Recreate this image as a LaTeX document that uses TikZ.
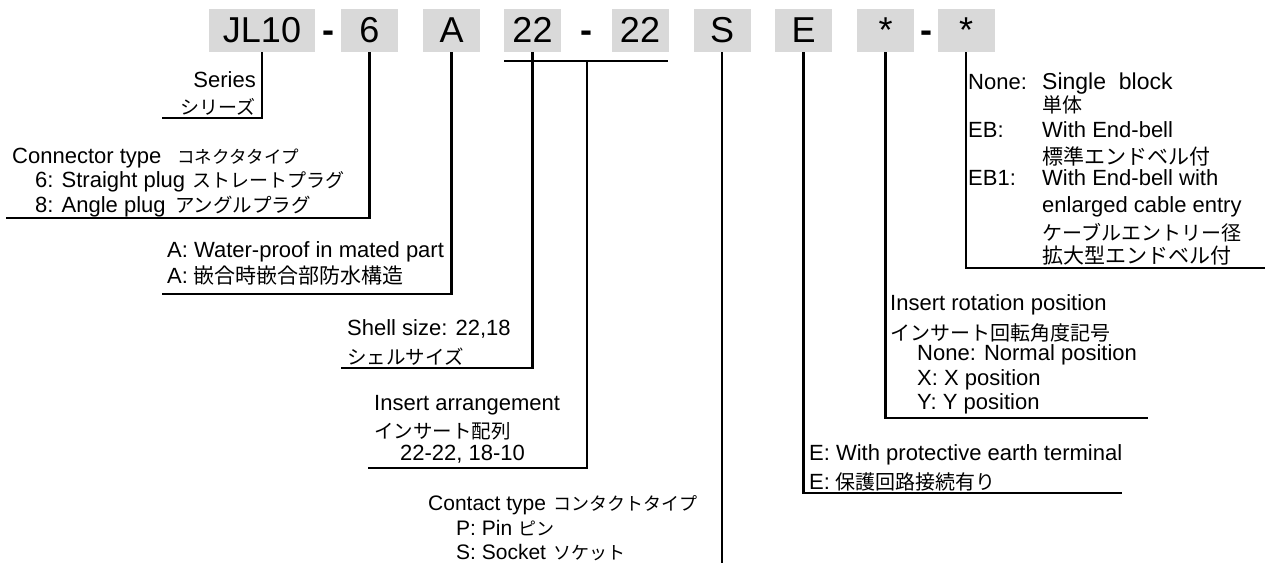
\documentclass[tikz,border=0pt]{standalone}
\usepackage{fontspec}
\setmainfont{Liberation Sans}
\newfontfamily\jp{Noto Sans CJK JP}
\definecolor{boxgray}{RGB}{217,217,217}
\begin{document}
\begin{tikzpicture}[x=1pt,y=-1pt,
  box/.style={fill=boxgray, minimum width=57pt, minimum height=43pt, inner sep=0pt,
    font=\fontsize{36}{40}\selectfont, text height=26pt, text depth=3pt},
  dashmark/.style={anchor=base, inner sep=0pt, font=\fontsize{36}{40}\selectfont\bfseries},
  conn/.style={line width=2.3pt},
  en/.style={anchor=base west, inner sep=0pt, font=\fontsize{22}{26}\selectfont},
  ens/.style={anchor=base west, inner sep=0pt, font=\fontsize{21}{24}\selectfont},
  jpt/.style={anchor=base west, inner sep=0pt, font=\jp\fontsize{20}{24}\selectfont},
  jps/.style={anchor=base west, inner sep=0pt, font=\jp\fontsize{19}{22}\selectfont},
  jpxs/.style={anchor=base west, inner sep=0pt, font=\jp\fontsize{18}{21}\selectfont},
]
\useasboundingbox (0,0) rectangle (1265,563);

% top row of code boxes
\node[box, minimum width=106pt] (bJL) at (262,30.5) {JL10};
\node[dashmark] (d1) at (328,42) {-};
\node[box] (b6) at (369.5,30.5) {6};
\node[box] (bA) at (451.5,30.5) {A};
\node[box] (b22a) at (532.5,30.5) {22};
\node[dashmark] (d2) at (586.5,42) {-};
\node[box] (b22b) at (640,30.5) {22};
\node[box] (bS) at (722,30.5) {S};
\node[box] (bE) at (803.5,30.5) {E};
\node[box] (bs1) at (885.5,30.5) {*};
\node[dashmark] (d3) at (926,42) {-};
\node[box] (bs2) at (966,30.5) {*};

% connectors
\coordinate (eJL) at (162,118);
\draw[conn] (bJL.south) |- (eJL);
\coordinate (e6) at (6,218);
\draw[conn] (b6.south) |- (e6);
\coordinate (eA) at (162,294);
\draw[conn] (bA.south) |- (eA);
\coordinate (e22) at (341,368);
\draw[conn] (b22a.south) |- (e22);
\coordinate (brL) at (504,61);
\coordinate (brR) at (668,61);
\coordinate (brM) at (587,61);
\draw[conn] (brL) -- (brR);
\coordinate (eIA) at (368,468);
\draw[conn] (brM) |- (eIA);
\coordinate (eS) at (722,563);
\draw[conn] (bS.south) -- (eS);
\coordinate (eE) at (1122,493);
\draw[conn] (bE.south) |- (eE);
\coordinate (es1) at (1148,418);
\draw[conn] (bs1.south) |- (es1);
\coordinate (es2) at (1265,268);
\draw[conn] (bs2.south) |- (es2);

% Series
\node[en, anchor=base east] (tSer) at (256,87) {Series};
\node[jpt, anchor=base east, font=\jp\fontsize{19}{22}\selectfont] (tSerJ) at (256,114) {シリーズ};

% Connector type
\node[en] (tCT) at (12,163) {Connector type};
\node[jps, font=\jp\fontsize{17.5}{21}\selectfont] (tCTJ) at (177,163) {コネクタタイプ};
\node[en] (t6) at (35,187) {6: Straight plug};
\node[jps] (t6J) at (192,187) {ストレートプラグ};
\node[en] (t8) at (35,212) {8: Angle plug};
\node[jps, font=\jp\fontsize{19.5}{22}\selectfont] (t8J) at (175,212) {アングルプラグ};

% Water-proof
\node[en] (tWP) at (167,257) {A: Water-proof in mated part};
\node[en] (tWPa) at (167,283) {A:};
\node[jpt, font=\jp\fontsize{21}{24}\selectfont] (tWPJ) at (193,283) {嵌合時嵌合部防水構造};

% Shell size
\node[en] (tSS) at (347,335) {Shell size: 22,18};
\node[jpt, font=\jp\fontsize{19.5}{23}\selectfont] (tSSJ) at (347,364) {シェルサイズ};

% Insert arrangement
\node[en] (tIA) at (374,410) {Insert arrangement};
\node[jpt, font=\jp\fontsize{19.5}{23}\selectfont] (tIAJ) at (374,438) {インサート配列};
\node[en] (tIAv) at (400,460) {22-22, 18-10};

% Contact type
\node[ens] (tC) at (428,510) {Contact type};
\node[jpxs] (tCJ) at (553,510) {コンタクトタイプ};
\node[ens] (tP) at (456,535) {P: Pin};
\node[jpxs] (tPJ) at (518,535) {ピン};
\node[ens] (tSo) at (456,559) {S: Socket};
\node[jpxs] (tSoJ) at (553,559) {ソケット};

% Insert rotation position
\node[en] (tIR) at (890,310) {Insert rotation position};
\node[jpt] (tIRJ) at (890,340) {インサート回転角度記号};
\node[en] (tIRn) at (917,360) {None: Normal position};
\node[en] (tIRx) at (917,385) {X: X position};
\node[en] (tIRy) at (917,409) {Y: Y position};

% Earth terminal
\node[en] (tEa) at (809,460) {E: With protective earth terminal};
\node[en] (tEb) at (809,489) {E:};
\node[jpt] (tEJ) at (835,489) {保護回路接続有り};

% End-bell options
\node[en] (tN) at (968,89) {None:};
\node[en, font=\fontsize{23}{26}\selectfont] (tNv) at (1042,89) {Single\ \ block};
\node[jpt] (tNJ) at (1042,112) {単体};
\node[en] (tEB) at (968,137) {EB:};
\node[en] (tEBv) at (1042,137) {With End-bell};
\node[jpt, font=\jp\fontsize{21}{24}\selectfont] (tEBJ) at (1042,164) {標準エンドベル付};
\node[en] (tEB1) at (968,185) {EB1:};
\node[en] (tEB1v) at (1042,185) {With End-bell with};
\node[en] (tEB1w) at (1042,212) {enlarged cable entry};
\node[jpt] (tEB1J) at (1042,240) {ケーブルエントリー径};
\node[jpt, font=\jp\fontsize{21}{24}\selectfont] (tEB1K) at (1042,263) {拡大型エンドベル付};
\end{tikzpicture}
\end{document}
